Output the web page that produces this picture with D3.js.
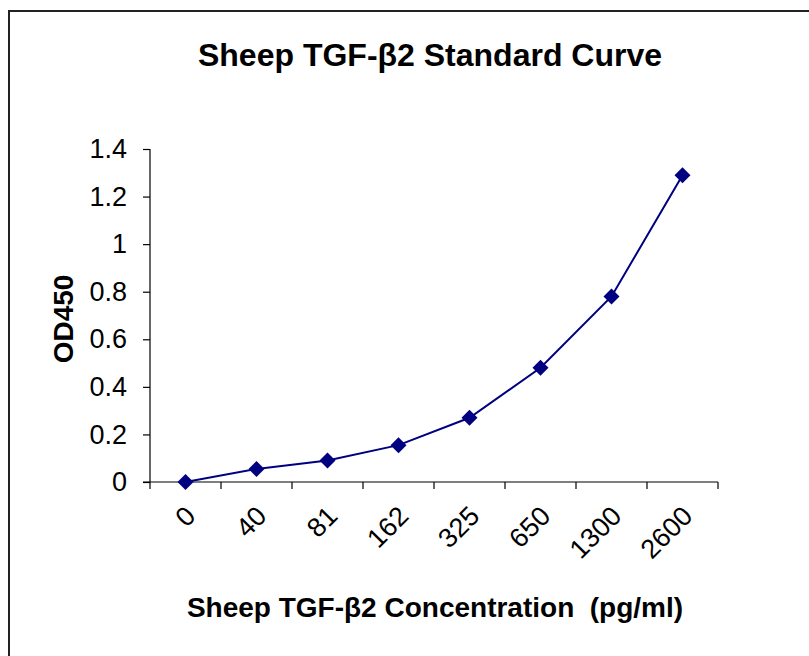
<!DOCTYPE html>
<html>
<head>
  <meta charset="UTF-8">
  <script src="https://d3js.org/d3.v7.min.js"></script>
  <style>
    body { margin: 0; background: #fff; font-family: "Liberation Sans", Arial, sans-serif; }
    text { font-family: "Liberation Sans", Arial, sans-serif; }
    .tick text { font-size: 27px; fill: #000; }
    .axis path, .axis line { stroke: #000; stroke-width: 1.2px; }
  </style>
</head>
<body>
  <svg width="809" height="656"></svg>
  <script>
    // standard curve data
    const concentrations = ["0", "40", "81", "162", "325", "650", "1300", "2600"];
    const od450 = [0, 0.055, 0.09, 0.155, 0.27, 0.48, 0.78, 1.29];
    const yTicks = [0, 0.2, 0.4, 0.6, 0.8, 1, 1.2, 1.4];

    const svg = d3.select("svg");

    // outer frame, runs off right and bottom
    svg.append("rect")
      .attr("x", 9).attr("y", 11)
      .attr("width", 830).attr("height", 700)
      .attr("fill", "none").attr("stroke", "#222").attr("stroke-width", 2);

    const x = d3.scaleBand().domain(concentrations).range([150, 718]);
    const y = d3.scaleLinear().domain([0, 1.4]).range([482, 149]);

    // y axis
    const yAxis = svg.append("g")
      .attr("class", "axis")
      .attr("transform", "translate(150,0)")
      .call(d3.axisLeft(y).tickValues(yTicks).tickSize(7).tickPadding(16).tickFormat(d3.format("~g")));
    yAxis.select(".domain").attr("d", "M0,149V482");

    // x axis with ticks at band edges
    const xg = svg.append("g").attr("class", "axis");
    xg.append("line")
      .attr("x1", 143).attr("x2", 718)
      .attr("y1", 482).attr("y2", 482);
    const edges = concentrations.map(c => x(c)).concat([x.range()[1]]);
    xg.selectAll(".xt").data(edges).enter().append("line")
      .attr("x1", d => d).attr("x2", d => d)
      .attr("y1", 482).attr("y2", 489);
    xg.selectAll(".xl").data(concentrations).enter().append("text")
      .attr("transform", d => `translate(${x(d) + x.bandwidth() / 2 + 5},${511}) rotate(-45)`)
      .attr("text-anchor", "end")
      .attr("dy", "0.35em")
      .style("font-size", "27px")
      .text(d => d);

    // line + markers
    const cx = (d, i) => x(concentrations[i]) + x.bandwidth() / 2;
    const line = d3.line().x((d, i) => cx(d, i)).y(d => y(d));
    svg.append("path")
      .datum(od450)
      .attr("d", line)
      .attr("fill", "none")
      .attr("stroke", "#000080")
      .attr("stroke-width", 2);

    svg.selectAll(".pt").data(od450).enter().append("path")
      .attr("d", d3.symbol().type(d3.symbolSquare).size(128))
      .attr("transform", (d, i) => `translate(${cx(d, i)},${y(d)}) rotate(45)`)
      .attr("fill", "#000080");

    // titles
    svg.append("text")
      .attr("x", 430).attr("y", 66)
      .attr("text-anchor", "middle")
      .style("font-size", "32px").style("font-weight", "bold")
      .text("Sheep TGF-β2 Standard Curve");

    svg.append("text")
      .attr("x", 435).attr("y", 617)
      .attr("text-anchor", "middle")
      .style("font-size", "28px").style("font-weight", "bold")
      .attr("xml:space", "preserve")
      .text("Sheep TGF-β2 Concentration  (pg/ml)");

    svg.append("text")
      .attr("transform", "translate(73,319) rotate(-90)")
      .attr("text-anchor", "middle")
      .style("font-size", "28px").style("font-weight", "bold")
      .text("OD450");
  </script>
</body>
</html>
